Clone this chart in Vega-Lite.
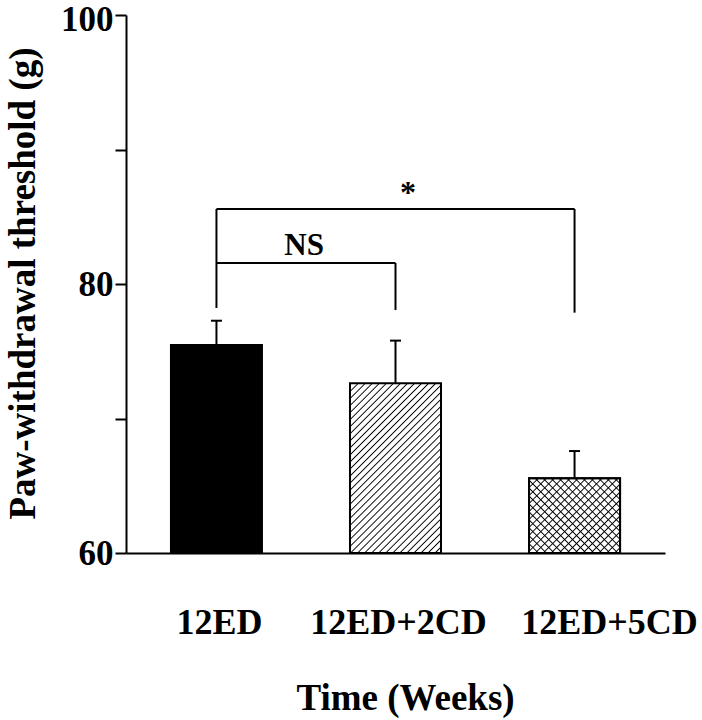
{
  "$schema": "https://vega.github.io/schema/vega-lite/v6.json",
  "width": 539,
  "height": 538,
  "autosize": "none",
  "padding": {"left": 126, "top": 15, "right": 37, "bottom": 167},
  "datasets": {
    "bars": [
      {"group": "12ED", "mean": 75.46, "upper": 77.27},
      {"group": "12ED+2CD", "mean": 72.62, "upper": 75.79},
      {"group": "12ED+5CD", "mean": 65.55, "upper": 67.58}
    ],
    "verticals": [
      {"group": "12ED", "low": 78.22, "high": 85.58},
      {"group": "12ED+2CD", "low": 78.07, "high": 81.56},
      {"group": "12ED+5CD", "low": 77.87, "high": 85.58}
    ],
    "horizontals": [
      {"from": "12ED", "to": "12ED+2CD", "level": 81.56},
      {"from": "12ED", "to": "12ED+5CD", "level": 85.58}
    ],
    "ns": [{"group": "12ED", "level": 82.16, "label": "NS"}],
    "star": [{"group": "12ED+2CD", "level": 86.0, "label": "*"}]
  },
  "layer": [
    {
      "data": {"name": "bars"},
      "transform": [{"filter": "datum.group == '12ED'"}],
      "mark": {"type": "bar", "fill": "#000", "stroke": "#000", "strokeWidth": 2},
      "encoding": {
        "x": {
          "field": "group", "type": "nominal",
          "scale": {"domain": ["12ED", "12ED+2CD", "12ED+5CD"], "paddingInner": 0.4916, "paddingOuter": 0.251},
          "axis": {
            "title": "Time (Weeks)", "ticks": false, "labelAngle": 0, "labelPadding": 80,
            "labelBaseline": "alphabetic", "labelFontSize": 36,
            "labelOffset": {"condition": {"test": "datum.value == '12ED+5CD'", "value": 35}, "value": 3},
            "titleFontSize": 37, "titleX": 279, "titleY": 156, "titleBaseline": "alphabetic", "titleAlign": "center"
          }
        },
        "y": {
          "field": "mean", "type": "quantitative",
          "scale": {"domain": [60, 100], "nice": false, "zero": false},
          "axis": {
            "title": "Paw-withdrawal threshold (g)", "values": [60, 70, 80, 90, 100],
            "labelExpr": "datum.value % 20 == 0 ? datum.label : ''",
            "labelOffset": {"condition": {"test": "datum.value == 100", "value": 4}, "value": 0},
            "tickSize": 11, "labelPadding": 2, "labelFontSize": 35,
            "titleFontSize": 37, "titleX": -92, "titleY": 268, "titleBaseline": "alphabetic", "titleAlign": "center", "titleAngle": -90
          }
        },
        "y2": {"datum": 60}
      }
    },
    {
      "data": {"name": "bars"},
      "transform": [{"filter": "datum.group == '12ED+2CD'"}],
      "mark": {
        "type": "bar", "stroke": "#000", "strokeWidth": 2,
        "fill": {
          "gradient": "linear", "x1": 0, "y1": 0, "x2": 0.6398, "y2": 1.1932,
          "stops": [
            {"offset": 0, "color": "#fff"}, {"offset": 0.005, "color": "#000"}, {"offset": 0.01, "color": "#fff"},
            {"offset": 0.027, "color": "#fff"}, {"offset": 0.032, "color": "#000"}, {"offset": 0.037, "color": "#fff"},
            {"offset": 0.054, "color": "#fff"}, {"offset": 0.059, "color": "#000"}, {"offset": 0.064, "color": "#fff"},
            {"offset": 0.081, "color": "#fff"}, {"offset": 0.086, "color": "#000"}, {"offset": 0.091, "color": "#fff"},
            {"offset": 0.108, "color": "#fff"}, {"offset": 0.113, "color": "#000"}, {"offset": 0.118, "color": "#fff"},
            {"offset": 0.135, "color": "#fff"}, {"offset": 0.14, "color": "#000"}, {"offset": 0.145, "color": "#fff"},
            {"offset": 0.162, "color": "#fff"}, {"offset": 0.167, "color": "#000"}, {"offset": 0.172, "color": "#fff"},
            {"offset": 0.189, "color": "#fff"}, {"offset": 0.194, "color": "#000"}, {"offset": 0.199, "color": "#fff"},
            {"offset": 0.216, "color": "#fff"}, {"offset": 0.221, "color": "#000"}, {"offset": 0.226, "color": "#fff"},
            {"offset": 0.243, "color": "#fff"}, {"offset": 0.248, "color": "#000"}, {"offset": 0.253, "color": "#fff"},
            {"offset": 0.27, "color": "#fff"}, {"offset": 0.275, "color": "#000"}, {"offset": 0.28, "color": "#fff"},
            {"offset": 0.297, "color": "#fff"}, {"offset": 0.302, "color": "#000"}, {"offset": 0.307, "color": "#fff"},
            {"offset": 0.324, "color": "#fff"}, {"offset": 0.329, "color": "#000"}, {"offset": 0.334, "color": "#fff"},
            {"offset": 0.351, "color": "#fff"}, {"offset": 0.356, "color": "#000"}, {"offset": 0.361, "color": "#fff"},
            {"offset": 0.378, "color": "#fff"}, {"offset": 0.383, "color": "#000"}, {"offset": 0.388, "color": "#fff"},
            {"offset": 0.405, "color": "#fff"}, {"offset": 0.41, "color": "#000"}, {"offset": 0.415, "color": "#fff"},
            {"offset": 0.432, "color": "#fff"}, {"offset": 0.437, "color": "#000"}, {"offset": 0.442, "color": "#fff"},
            {"offset": 0.459, "color": "#fff"}, {"offset": 0.464, "color": "#000"}, {"offset": 0.469, "color": "#fff"},
            {"offset": 0.486, "color": "#fff"}, {"offset": 0.491, "color": "#000"}, {"offset": 0.496, "color": "#fff"},
            {"offset": 0.513, "color": "#fff"}, {"offset": 0.518, "color": "#000"}, {"offset": 0.523, "color": "#fff"},
            {"offset": 0.54, "color": "#fff"}, {"offset": 0.545, "color": "#000"}, {"offset": 0.55, "color": "#fff"},
            {"offset": 0.567, "color": "#fff"}, {"offset": 0.572, "color": "#000"}, {"offset": 0.577, "color": "#fff"},
            {"offset": 0.594, "color": "#fff"}, {"offset": 0.599, "color": "#000"}, {"offset": 0.604, "color": "#fff"},
            {"offset": 0.621, "color": "#fff"}, {"offset": 0.626, "color": "#000"}, {"offset": 0.631, "color": "#fff"},
            {"offset": 0.648, "color": "#fff"}, {"offset": 0.653, "color": "#000"}, {"offset": 0.658, "color": "#fff"},
            {"offset": 0.675, "color": "#fff"}, {"offset": 0.68, "color": "#000"}, {"offset": 0.685, "color": "#fff"},
            {"offset": 0.702, "color": "#fff"}, {"offset": 0.707, "color": "#000"}, {"offset": 0.712, "color": "#fff"},
            {"offset": 0.729, "color": "#fff"}, {"offset": 0.734, "color": "#000"}, {"offset": 0.739, "color": "#fff"},
            {"offset": 0.756, "color": "#fff"}, {"offset": 0.761, "color": "#000"}, {"offset": 0.766, "color": "#fff"},
            {"offset": 0.783, "color": "#fff"}, {"offset": 0.788, "color": "#000"}, {"offset": 0.793, "color": "#fff"},
            {"offset": 0.81, "color": "#fff"}, {"offset": 0.815, "color": "#000"}, {"offset": 0.82, "color": "#fff"},
            {"offset": 0.837, "color": "#fff"}, {"offset": 0.842, "color": "#000"}, {"offset": 0.847, "color": "#fff"},
            {"offset": 0.864, "color": "#fff"}, {"offset": 0.869, "color": "#000"}, {"offset": 0.874, "color": "#fff"},
            {"offset": 0.891, "color": "#fff"}, {"offset": 0.896, "color": "#000"}, {"offset": 0.901, "color": "#fff"},
            {"offset": 0.918, "color": "#fff"}, {"offset": 0.923, "color": "#000"}, {"offset": 0.928, "color": "#fff"},
            {"offset": 0.945, "color": "#fff"}, {"offset": 0.95, "color": "#000"}, {"offset": 0.955, "color": "#fff"},
            {"offset": 0.972, "color": "#fff"}, {"offset": 0.977, "color": "#000"}, {"offset": 0.982, "color": "#fff"}
          ]
        }
      },
      "encoding": {
        "x": {"field": "group", "type": "nominal"},
        "y": {"field": "mean", "type": "quantitative"},
        "y2": {"datum": 60}
      }
    },
    {
      "data": {"name": "bars"},
      "transform": [{"filter": "datum.group == '12ED+5CD'"}],
      "mark": {
        "type": "bar", "stroke": "#000", "strokeWidth": 2,
        "fill": {
          "gradient": "linear", "x1": 0, "y1": 0, "x2": 1.0884, "y2": 0.8922,
          "stops": [
            {"offset": 0, "color": "#fff"}, {"offset": 0.008, "color": "#000"}, {"offset": 0.016, "color": "#fff"},
            {"offset": 0.048, "color": "#fff"}, {"offset": 0.056, "color": "#000"}, {"offset": 0.064, "color": "#fff"},
            {"offset": 0.096, "color": "#fff"}, {"offset": 0.104, "color": "#000"}, {"offset": 0.112, "color": "#fff"},
            {"offset": 0.144, "color": "#fff"}, {"offset": 0.152, "color": "#000"}, {"offset": 0.16, "color": "#fff"},
            {"offset": 0.192, "color": "#fff"}, {"offset": 0.2, "color": "#000"}, {"offset": 0.208, "color": "#fff"},
            {"offset": 0.24, "color": "#fff"}, {"offset": 0.248, "color": "#000"}, {"offset": 0.256, "color": "#fff"},
            {"offset": 0.288, "color": "#fff"}, {"offset": 0.296, "color": "#000"}, {"offset": 0.304, "color": "#fff"},
            {"offset": 0.336, "color": "#fff"}, {"offset": 0.344, "color": "#000"}, {"offset": 0.352, "color": "#fff"},
            {"offset": 0.384, "color": "#fff"}, {"offset": 0.392, "color": "#000"}, {"offset": 0.4, "color": "#fff"},
            {"offset": 0.432, "color": "#fff"}, {"offset": 0.44, "color": "#000"}, {"offset": 0.448, "color": "#fff"},
            {"offset": 0.48, "color": "#fff"}, {"offset": 0.488, "color": "#000"}, {"offset": 0.496, "color": "#fff"},
            {"offset": 0.528, "color": "#fff"}, {"offset": 0.536, "color": "#000"}, {"offset": 0.544, "color": "#fff"},
            {"offset": 0.576, "color": "#fff"}, {"offset": 0.584, "color": "#000"}, {"offset": 0.592, "color": "#fff"},
            {"offset": 0.624, "color": "#fff"}, {"offset": 0.632, "color": "#000"}, {"offset": 0.64, "color": "#fff"},
            {"offset": 0.672, "color": "#fff"}, {"offset": 0.68, "color": "#000"}, {"offset": 0.688, "color": "#fff"},
            {"offset": 0.72, "color": "#fff"}, {"offset": 0.728, "color": "#000"}, {"offset": 0.736, "color": "#fff"},
            {"offset": 0.768, "color": "#fff"}, {"offset": 0.776, "color": "#000"}, {"offset": 0.784, "color": "#fff"},
            {"offset": 0.816, "color": "#fff"}, {"offset": 0.824, "color": "#000"}, {"offset": 0.832, "color": "#fff"},
            {"offset": 0.864, "color": "#fff"}, {"offset": 0.872, "color": "#000"}, {"offset": 0.88, "color": "#fff"},
            {"offset": 0.912, "color": "#fff"}, {"offset": 0.92, "color": "#000"}, {"offset": 0.928, "color": "#fff"},
            {"offset": 0.96, "color": "#fff"}, {"offset": 0.968, "color": "#000"}, {"offset": 0.976, "color": "#fff"}
          ]
        }
      },
      "encoding": {
        "x": {"field": "group", "type": "nominal"},
        "y": {"field": "mean", "type": "quantitative"},
        "y2": {"datum": 60}
      }
    },
    {
      "data": {"name": "bars"},
      "transform": [{"filter": "datum.group == '12ED+5CD'"}],
      "mark": {
        "type": "bar", "stroke": "#000", "strokeWidth": 2,
        "fill": {
          "gradient": "linear", "x1": 0, "y1": 1, "x2": 1.0884, "y2": 0.1078,
          "stops": [
            {"offset": 0, "color": "rgba(0,0,0,0)"}, {"offset": 0.008, "color": "#000"}, {"offset": 0.016, "color": "rgba(0,0,0,0)"},
            {"offset": 0.048, "color": "rgba(0,0,0,0)"}, {"offset": 0.056, "color": "#000"}, {"offset": 0.064, "color": "rgba(0,0,0,0)"},
            {"offset": 0.096, "color": "rgba(0,0,0,0)"}, {"offset": 0.104, "color": "#000"}, {"offset": 0.112, "color": "rgba(0,0,0,0)"},
            {"offset": 0.144, "color": "rgba(0,0,0,0)"}, {"offset": 0.152, "color": "#000"}, {"offset": 0.16, "color": "rgba(0,0,0,0)"},
            {"offset": 0.192, "color": "rgba(0,0,0,0)"}, {"offset": 0.2, "color": "#000"}, {"offset": 0.208, "color": "rgba(0,0,0,0)"},
            {"offset": 0.24, "color": "rgba(0,0,0,0)"}, {"offset": 0.248, "color": "#000"}, {"offset": 0.256, "color": "rgba(0,0,0,0)"},
            {"offset": 0.288, "color": "rgba(0,0,0,0)"}, {"offset": 0.296, "color": "#000"}, {"offset": 0.304, "color": "rgba(0,0,0,0)"},
            {"offset": 0.336, "color": "rgba(0,0,0,0)"}, {"offset": 0.344, "color": "#000"}, {"offset": 0.352, "color": "rgba(0,0,0,0)"},
            {"offset": 0.384, "color": "rgba(0,0,0,0)"}, {"offset": 0.392, "color": "#000"}, {"offset": 0.4, "color": "rgba(0,0,0,0)"},
            {"offset": 0.432, "color": "rgba(0,0,0,0)"}, {"offset": 0.44, "color": "#000"}, {"offset": 0.448, "color": "rgba(0,0,0,0)"},
            {"offset": 0.48, "color": "rgba(0,0,0,0)"}, {"offset": 0.488, "color": "#000"}, {"offset": 0.496, "color": "rgba(0,0,0,0)"},
            {"offset": 0.528, "color": "rgba(0,0,0,0)"}, {"offset": 0.536, "color": "#000"}, {"offset": 0.544, "color": "rgba(0,0,0,0)"},
            {"offset": 0.576, "color": "rgba(0,0,0,0)"}, {"offset": 0.584, "color": "#000"}, {"offset": 0.592, "color": "rgba(0,0,0,0)"},
            {"offset": 0.624, "color": "rgba(0,0,0,0)"}, {"offset": 0.632, "color": "#000"}, {"offset": 0.64, "color": "rgba(0,0,0,0)"},
            {"offset": 0.672, "color": "rgba(0,0,0,0)"}, {"offset": 0.68, "color": "#000"}, {"offset": 0.688, "color": "rgba(0,0,0,0)"},
            {"offset": 0.72, "color": "rgba(0,0,0,0)"}, {"offset": 0.728, "color": "#000"}, {"offset": 0.736, "color": "rgba(0,0,0,0)"},
            {"offset": 0.768, "color": "rgba(0,0,0,0)"}, {"offset": 0.776, "color": "#000"}, {"offset": 0.784, "color": "rgba(0,0,0,0)"},
            {"offset": 0.816, "color": "rgba(0,0,0,0)"}, {"offset": 0.824, "color": "#000"}, {"offset": 0.832, "color": "rgba(0,0,0,0)"},
            {"offset": 0.864, "color": "rgba(0,0,0,0)"}, {"offset": 0.872, "color": "#000"}, {"offset": 0.88, "color": "rgba(0,0,0,0)"},
            {"offset": 0.912, "color": "rgba(0,0,0,0)"}, {"offset": 0.92, "color": "#000"}, {"offset": 0.928, "color": "rgba(0,0,0,0)"},
            {"offset": 0.96, "color": "rgba(0,0,0,0)"}, {"offset": 0.968, "color": "#000"}, {"offset": 0.976, "color": "rgba(0,0,0,0)"}
          ]
        }
      },
      "encoding": {
        "x": {"field": "group", "type": "nominal"},
        "y": {"field": "mean", "type": "quantitative"},
        "y2": {"datum": 60}
      }
    },
    {
      "data": {"name": "bars"},
      "mark": {"type": "rule", "stroke": "#000", "strokeWidth": 2},
      "encoding": {
        "x": {"field": "group", "type": "nominal", "bandPosition": 0.5},
        "y": {"field": "mean", "type": "quantitative"},
        "y2": {"field": "upper"}
      }
    },
    {
      "data": {"name": "bars"},
      "mark": {"type": "tick", "color": "#000", "size": 11, "thickness": 2, "orient": "horizontal", "opacity": 1},
      "encoding": {
        "x": {"field": "group", "type": "nominal", "bandPosition": 0.5},
        "y": {"field": "upper", "type": "quantitative"}
      }
    },
    {
      "data": {"name": "verticals"},
      "mark": {"type": "rule", "stroke": "#000", "strokeWidth": 2},
      "encoding": {
        "x": {"field": "group", "type": "nominal", "bandPosition": 0.5},
        "y": {"field": "low", "type": "quantitative"},
        "y2": {"field": "high"}
      }
    },
    {
      "data": {"name": "horizontals"},
      "mark": {"type": "rule", "stroke": "#000", "strokeWidth": 2},
      "encoding": {
        "x": {"field": "from", "type": "nominal", "bandPosition": 0.5},
        "x2": {"field": "to", "bandPosition": 0.5},
        "y": {"field": "level", "type": "quantitative"}
      }
    },
    {
      "data": {"name": "ns"},
      "mark": {"type": "text", "font": "Liberation Serif", "fontWeight": "bold", "fontSize": 31, "baseline": "alphabetic", "align": "center", "color": "#000"},
      "encoding": {
        "x": {"field": "group", "type": "nominal", "bandPosition": 1.463},
        "y": {"field": "level", "type": "quantitative"},
        "text": {"field": "label"}
      }
    },
    {
      "data": {"name": "star"},
      "mark": {"type": "text", "font": "Liberation Serif", "fontWeight": "bold", "fontSize": 32, "baseline": "alphabetic", "align": "center", "color": "#000"},
      "encoding": {
        "x": {"field": "group", "type": "nominal", "bandPosition": 0.637},
        "y": {"field": "level", "type": "quantitative"},
        "text": {"field": "label"}
      }
    }
  ],
  "config": {
    "view": {"stroke": null},
    "font": "Liberation Serif",
    "axis": {
      "grid": false, "domainColor": "#000", "domainWidth": 2, "tickColor": "#000", "tickWidth": 2,
      "labelColor": "#000", "titleColor": "#000", "labelFont": "Liberation Serif", "titleFont": "Liberation Serif",
      "labelFontWeight": "bold", "titleFontWeight": "bold"
    }
  }
}
